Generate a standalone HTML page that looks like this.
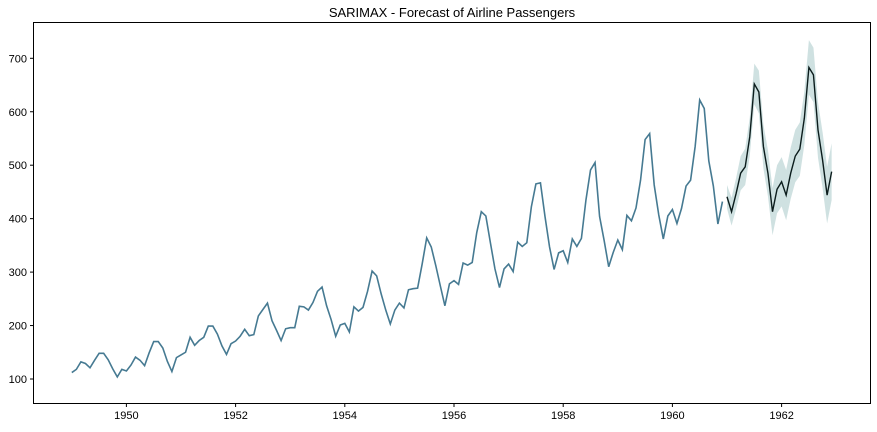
<!DOCTYPE html>
<html><head><meta charset="utf-8"><style>
body{margin:0;background:#fff;}
svg text{font-family:"Liberation Sans","DejaVu Sans",sans-serif;fill:#000;}
</style></head><body>
<svg id="chart" width="877" height="427" viewBox="0 0 877 427">
<text x="452" y="17" font-size="13" text-anchor="middle">SARIMAX - Forecast of Airline Passengers</text>
<g id="plot"></g>
<rect x="33.5" y="22.5" width="837" height="381" fill="none" stroke="#000" stroke-width="1"/>
</svg>
<script>
const history = [112,118,132,129,121,135,148,148,136,119,104,118,
115,126,141,135,125,149,170,170,158,133,114,140,
145,150,178,163,172,178,199,199,184,162,146,166,
171,180,193,181,183,218,230,242,209,191,172,194,
196,196,236,235,229,243,264,272,237,211,180,201,
204,188,235,227,234,264,302,293,259,229,203,229,
242,233,267,269,270,315,364,347,312,274,237,278,
284,277,317,313,318,374,413,405,355,306,271,306,
315,301,356,348,355,422,465,467,404,347,305,336,
340,318,362,348,363,435,491,505,404,359,310,337,
360,342,406,396,420,472,548,559,463,407,362,405,
417,391,419,461,472,535,622,606,508,461,390,432];
const forecast = [441,413,447,485,497,553,652,637,535,485,413,455,
469,444,485,517,530,588,683,669,566,510,444,488];
const ciHalf = [22,26,29,32,34,36,38,40,41,43,44,45,46,47,48,49,50,50,51,51,52,52,53,53];
const yTicks = [100,200,300,400,500,600,700];
const xTicks = [1950,1952,1954,1956,1958,1960,1962];

const NS="http://www.w3.org/2000/svg";
const plot=document.getElementById('plot');
function xScale(yearFrac){return 126.4+(yearFrac-1950)*54.6;}
function yScale(v){return 379-(v-100)*0.5345;}
function mk(tag,attrs){const e=document.createElementNS(NS,tag);for(const k in attrs)e.setAttribute(k,attrs[k]);plot.appendChild(e);return e;}

yTicks.forEach(v=>{
  const y=yScale(v);
  const t=mk('line',{x1:30,x2:33.5,y1:y,y2:y,stroke:'#000'});
  
  
  const l=mk('text',{x:27,y:y+4,'font-size':11,'text-anchor':'end'});
  l.textContent=v;
  
  
});
xTicks.forEach(v=>{
  const x=xScale(v);
  const t=mk('line',{x1:x,x2:x,y1:403.5,y2:407,stroke:'#000'});
  
  
  const l=mk('text',{x:x,y:419,'font-size':11,'text-anchor':'middle'});
  l.textContent=v;
  
  
});

let up=[],lo=[];
forecast.forEach((v,i)=>{const x=xScale(1961+i/12);up.push(x+','+yScale(v+ciHalf[i]));lo.unshift(x+','+yScale(v-ciHalf[i]));});
const band=mk('polygon',{points:up.concat(lo).join(' '),fill:'#9fc4c4','fill-opacity':0.5,stroke:'none'});



const hp=history.map((v,i)=>xScale(1949+i/12)+','+yScale(v)).join(' ');
const h=mk('polyline',{points:hp,fill:'none',stroke:'#467a92','stroke-width':1.6});



const fp=forecast.map((v,i)=>xScale(1961+i/12)+','+yScale(v)).join(' ');
const f=mk('polyline',{points:fp,fill:'none',stroke:'#0b1c1c','stroke-width':1.4});


</script>
</body></html>
